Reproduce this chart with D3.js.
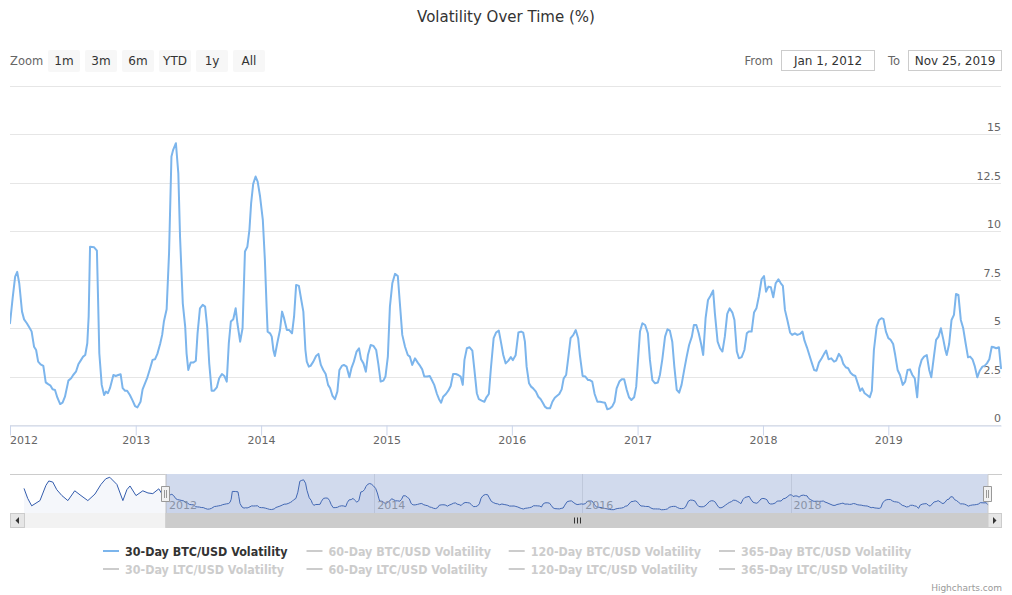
<!DOCTYPE html>
<html><head><meta charset="utf-8">
<script src="https://cdn.jsdelivr.net/npm/d3@7"></script>
<style>
html,body{margin:0;padding:0;background:#fff;}
svg{display:block;font-family:"DejaVu Sans",sans-serif;}
</style></head><body>
<svg id="chart" width="1012" height="595"></svg>
<script>
// ---------------- DATA ----------------
const chartTitle = "Volatility Over Time (%)";
const startDate = "2012-01-01";
const endDate = "2019-11-25";
// [days since 2012-01-01, 30-day BTC/USD volatility %]
const btc2012 = [[0,5.25],[8,6.6],[15,7.66],[21,7.9],[27,7.3],[35,5.85],[41,5.45],[49,5.25],[56,5.04],[63,4.82],[70,4.04],[76,3.87],[82,3.27],[89,3.13],[97,3.05],[104,2.2],[110,2.12],[118,2.03],[124,1.84],[131,1.81],[138,1.41],[146,1.08],[153,1.15],[160,1.46],[170,2.29],[178,2.41],[184,2.58],[192,2.75],[199,3.13],[207,3.36],[213,3.53],[219,3.61],[225,4.22],[229,5.6],[233,9.2],[245,9.17],[253,9.0],[256,6.8],[260,3.7],[267,2.07],[274,1.55],[279,1.72],[285,1.64],[291,1.9],[301,2.58],[308,2.53],[315,2.58],[322,2.62],[328,1.9],[335,1.77],[341,1.77],[349,1.55],[357,1.26],[364,0.98]];
const btc2013 = [[371,0.91],[380,1.2],[386,1.84],[393,2.15],[400,2.46],[408,2.93],[415,3.36],[422,3.39],[429,3.67],[437,4.18],[443,4.65],[448,5.34],[456,5.97],[463,8.86],[470,13.86],[475,14.2],[483,14.54],[490,13.0],[495,9.72],[503,6.28],[510,5.08],[514,3.7],[519,2.84],[526,3.22],[534,3.22],[541,3.32],[546,4.73],[553,6.02],[561,6.2],[568,6.11],[574,5.08],[580,3.18],[587,1.77],[594,1.77],[602,1.94],[609,2.41],[617,2.63],[624,2.53],[631,2.24],[637,4.22],[643,5.34],[650,5.46],[657,6.02],[662,5.25],[670,4.3],[677,4.99],[684,8.95],[691,9.2],[697,10.07],[702,11.45],[708,12.44],[715,12.82],[721,12.56],[728,11.79]];
const btc2014 = [[736,10.59],[742,8.52],[747,6.11],[750,4.82],[757,4.73],[762,4.56],[767,3.84],[771,3.56],[778,4.22],[786,4.9],[792,5.85],[798,5.5],[806,4.9],[813,4.9],[821,4.73],[827,5.6],[833,7.23],[841,7.18],[848,6.45],[854,5.85],[860,3.87],[864,3.27],[870,3.01],[875,3.05],[883,3.27],[891,3.56],[898,3.67],[905,3.1],[912,2.84],[919,2.63],[926,2.07],[932,1.9],[939,1.5],[946,1.33],[953,1.72],[959,2.84],[966,3.05],[972,3.1],[980,3.01],[988,2.46],[994,2.93],[1001,3.27],[1009,3.79],[1016,3.96],[1022,3.39],[1029,3.18],[1036,2.75],[1042,3.61],[1050,4.13],[1058,4.08],[1066,3.87],[1072,3.18],[1079,2.24],[1087,2.29],[1093,2.5]];
const btc2015 = [[1100,3.53],[1106,6.11],[1113,7.31],[1121,7.8],[1129,7.69],[1135,6.28],[1142,4.65],[1150,4.04],[1158,3.61],[1164,3.53],[1171,3.1],[1179,3.44],[1187,3.22],[1194,3.05],[1200,2.87],[1206,2.5],[1214,2.5],[1222,2.53],[1228,2.32],[1235,2.07],[1243,1.6],[1249,1.33],[1255,1.15],[1261,1.46],[1269,1.6],[1276,1.77],[1283,2.01],[1290,2.63],[1298,2.63],[1305,2.58],[1312,2.5],[1318,2.07],[1323,3.36],[1330,3.96],[1338,4.01],[1346,3.84],[1352,2.84],[1359,1.64],[1365,1.33],[1373,1.26],[1381,1.2],[1387,1.43],[1394,1.6],[1400,2.93],[1408,4.48],[1415,4.77],[1423,4.87],[1429,4.3],[1436,3.61],[1443,3.18],[1451,3.32],[1458,3.5]];
const btc2016 = [[1464,3.35],[1472,3.6],[1480,4.77],[1488,4.82],[1494,4.77],[1499,4.3],[1504,3.01],[1511,2.15],[1517,1.98],[1523,1.89],[1531,1.72],[1538,1.46],[1545,1.33],[1551,1.15],[1557,0.95],[1564,0.86],[1572,0.86],[1579,1.2],[1586,1.41],[1592,1.5],[1599,1.6],[1606,1.84],[1612,2.41],[1619,2.58],[1625,3.44],[1632,4.48],[1640,4.65],[1647,4.9],[1654,4.48],[1659,3.61],[1667,2.53],[1675,2.5],[1683,2.32],[1688,2.32],[1695,2.24],[1702,1.6],[1710,1.2],[1718,1.2],[1725,1.17],[1732,1.15],[1739,0.81],[1747,0.86],[1753,0.95],[1760,1.2],[1766,1.89],[1774,2.24],[1781,2.36],[1788,2.36],[1795,1.84],[1802,1.43],[1809,1.29],[1817,1.43],[1823,1.98]];
const btc2017 = [[1827,3.01],[1834,4.82],[1841,5.25],[1849,5.16],[1857,4.73],[1863,3.36],[1870,2.32],[1878,2.15],[1886,2.19],[1892,2.58],[1899,3.39],[1907,4.56],[1914,4.94],[1921,4.87],[1928,4.3],[1934,3.01],[1941,1.81],[1948,1.67],[1955,2.07],[1963,2.87],[1970,3.53],[1977,4.13],[1985,4.56],[1991,5.16],[1998,5.16],[2005,4.73],[2012,4.18],[2018,3.61],[2025,5.51],[2032,6.45],[2039,6.66],[2047,6.94],[2052,5.77],[2060,4.3],[2067,3.96],[2074,3.79],[2081,4.56],[2088,5.73],[2095,6.02],[2103,5.8],[2109,5.42],[2116,3.79],[2122,3.44],[2130,3.5],[2138,3.87],[2145,4.73],[2151,4.82],[2159,4.82],[2166,5.8],[2173,6.02],[2180,6.63]];
const btc2018 = [[2188,7.52],[2195,7.69],[2201,6.88],[2208,7.14],[2215,7.11],[2222,6.59],[2229,7.31],[2237,7.52],[2244,7.31],[2250,7.18],[2256,5.94],[2263,5.42],[2271,4.77],[2277,4.65],[2285,4.73],[2292,4.65],[2300,4.7],[2307,4.82],[2313,4.35],[2320,4.01],[2327,3.61],[2334,3.22],[2341,2.84],[2348,2.8],[2355,3.22],[2363,3.44],[2370,3.67],[2376,3.84],[2383,3.39],[2391,3.44],[2399,3.27],[2405,3.32],[2413,3.67],[2420,3.49],[2426,3.15],[2433,2.98],[2440,2.93],[2447,2.7],[2454,2.58],[2461,2.53],[2468,2.15],[2475,1.76],[2481,1.89],[2488,1.64],[2495,1.55],[2503,1.43],[2509,1.77],[2515,3.87],[2523,5.08],[2530,5.42],[2537,5.51],[2543,5.46],[2550,4.82]];
const btc2019 = [[2557,4.48],[2564,4.39],[2571,4.18],[2577,3.61],[2584,2.84],[2591,2.58],[2599,2.07],[2606,2.24],[2613,2.84],[2620,2.87],[2627,2.58],[2634,2.41],[2641,1.43],[2647,2.93],[2654,3.36],[2661,3.53],[2669,3.61],[2676,2.84],[2682,2.46],[2689,3.44],[2696,4.39],[2703,4.56],[2710,4.99],[2717,4.42],[2723,3.87],[2727,3.61],[2734,4.18],[2741,5.42],[2748,5.68],[2754,6.76],[2761,6.71],[2768,5.42],[2775,4.99],[2782,4.22],[2789,3.49],[2795,3.53],[2802,3.39],[2809,3.01],[2816,2.46],[2823,2.8],[2831,3.01],[2837,3.05],[2844,3.18],[2851,3.39],[2858,4.04],[2864,4.01],[2871,3.96],[2879,4.01],[2885,2.93]];
// earlier history only visible in the navigator
const btcEarly = [[-498,10.6],[-485,6],[-471,2.6],[-442,5],[-421,12],[-411,14],[-397,13.5],[-383,10],[-365,7.3],[-344,5],[-320,9.5],[-298,7.3],[-274,5],[-249,8],[-228,12.4],[-211,15],[-197,15.7],[-172,12.4],[-151,5],[-137,10],[-126,11.7],[-105,7.3],[-81,9.5],[-63,8.5],[-46,8.2],[-25,10.4],[-11,7.5]];

const yTicks = [0, 2.5, 5, 7.5, 10, 12.5, 15, 17.5];
const yTickLabels = ["0", "2.5", "5", "7.5", "10", "12.5", "15", ""];
const navYears = [2012, 2014, 2016, 2018];
const zoomButtons = ["1m", "3m", "6m", "YTD", "1y", "All"];
const legendNames = [
  "30-Day BTC/USD Volatility", "60-Day BTC/USD Volatility", "120-Day BTC/USD Volatility", "365-Day BTC/USD Volatility",
  "30-Day LTC/USD Volatility", "60-Day LTC/USD Volatility", "120-Day LTC/USD Volatility", "365-Day LTC/USD Volatility"
];
const legendVisible = [true, false, false, false, false, false, false, false];

// ---------------- DRAW ----------------
const svg = d3.select("#chart");
const parse = d3.utcParse("%Y-%m-%d");
const t0 = parse(startDate), tEnd = parse(endDate);
const toPoint = ([d, v]) => ({ date: d3.utcDay.offset(t0, d), v });
const mainData = [...btc2012, ...btc2013, ...btc2014, ...btc2015, ...btc2016, ...btc2017, ...btc2018, ...btc2019].map(toPoint);
const navData = [...btcEarly.map(toPoint), ...mainData];

const P = { left: 10, right: 1001, top: 85.85, bottom: 425 };
const x = d3.scaleUtc().domain([t0, tEnd]).range([P.left, P.right]);
const y = d3.scaleLinear().domain([0, 17.5]).range([P.bottom, P.top]);

// title
svg.append("text").attr("x", 506).attr("y", 22).attr("text-anchor", "middle")
  .attr("font-size", 15).attr("fill", "#333").text(chartTitle);

// range selector
svg.append("text").attr("x", 10).attr("y", 65).attr("font-size", 11.5).attr("fill", "#666").text("Zoom");
const btn = svg.append("g").selectAll("g").data(zoomButtons).join("g")
  .attr("transform", (d, i) => `translate(${48 + i * 37},50)`);
btn.append("rect").attr("width", 32).attr("height", 22).attr("rx", 2).attr("fill", "#f7f7f7");
btn.append("text").attr("x", 16).attr("y", 15).attr("text-anchor", "middle").attr("font-size", 12).attr("fill", "#333").text(d => d);

const fmt = d3.utcFormat("%b %-d, %Y");
const inputs = [{ label: "From", lx: 773, bx: 781.5, date: t0 }, { label: "To", lx: 900, bx: 908.5, date: tEnd }];
inputs.forEach(o => {
  svg.append("text").attr("x", o.lx).attr("y", 65).attr("text-anchor", "end").attr("font-size", 11.5).attr("fill", "#666").text(o.label);
  svg.append("rect").attr("x", o.bx).attr("y", 50.5).attr("width", 93).attr("height", 20).attr("fill", "#fff").attr("stroke", "#ccc");
  svg.append("text").attr("x", o.bx + 46.5).attr("y", 65).attr("text-anchor", "middle").attr("font-size", 12).attr("fill", "#333").text(fmt(o.date));
});

// grid + y labels
const grid = svg.append("g");
grid.selectAll("line").data(yTicks).join("line")
  .attr("x1", P.left).attr("x2", P.right).attr("y1", d => Math.round(y(d)) + 0.5).attr("y2", d => Math.round(y(d)) + 0.5)
  .attr("stroke", "#e6e6e6");
svg.append("g").selectAll("text").data(yTicks).join("text")
  .attr("x", P.right).attr("y", d => y(d) - 3).attr("text-anchor", "end")
  .attr("font-size", 11).attr("fill", "#666").text((d, i) => yTickLabels[i]);

// x axis
const xAxis = svg.append("g").attr("transform", `translate(0,${P.bottom + 0.5})`)
  .call(d3.axisBottom(x).ticks(d3.utcYear.every(1)).tickFormat(d3.utcFormat("%Y")).tickSize(10).tickSizeOuter(0).tickPadding(1));
xAxis.select(".domain").attr("stroke", "#ccd6eb");
xAxis.selectAll(".tick line").attr("stroke", "#ccd6eb");
xAxis.selectAll(".tick text").attr("fill", "#666").attr("font-size", 11).attr("font-family", "DejaVu Sans");
xAxis.selectAll(".tick text").each(function () {
  const b = this.getBBox();
  const tx = +this.parentNode.getAttribute("transform").match(/translate\(([-\d.]+)/)[1];
  if (tx + b.x < P.left) d3.select(this).attr("x", P.left - (tx + b.x));
});

// main series
svg.append("clipPath").attr("id", "plotClip").append("rect")
  .attr("x", P.left).attr("y", P.top - 5).attr("width", P.right - P.left + 1).attr("height", P.bottom - P.top + 10);
svg.append("path").datum(mainData).attr("clip-path", "url(#plotClip)")
  .attr("fill", "none").attr("stroke", "#7cb5ec").attr("stroke-width", 2)
  .attr("stroke-linejoin", "round").attr("stroke-linecap", "round")
  .attr("d", d3.line().x(d => x(d.date)).y(d => y(d.v)));

// navigator
const N = { left: 24, right: 988, top: 474, bottom: 513 };
const xn = d3.scaleUtc().domain([navData[0].date, tEnd]).range([N.left, N.right]);
const vmin = d3.min(navData, d => d.v), vmax = d3.max(navData, d => d.v), span = vmax - vmin;
const yn = d3.scaleLinear().domain([vmin - 0.1 * span, vmax + 0.1 * span]).range([N.bottom, N.top]);
const nav = svg.append("g");
nav.selectAll("line.ng").data(navYears).join("line").attr("class", "ng")
  .attr("x1", d => Math.round(xn(Date.UTC(d, 0, 1))) + 0.5).attr("x2", d => Math.round(xn(Date.UTC(d, 0, 1))) + 0.5)
  .attr("y1", N.top).attr("y2", N.bottom).attr("stroke", "#e6e6e6");
nav.append("path").datum(navData).attr("fill", "#335cad").attr("fill-opacity", 0.05)
  .attr("d", d3.area().x(d => xn(d.date)).y0(N.bottom).y1(d => yn(d.v)));
nav.append("path").datum(navData).attr("fill", "none").attr("stroke", "#335cad").attr("stroke-width", 1)
  .attr("d", d3.line().x(d => xn(d.date)).y(d => yn(d.v)));
nav.selectAll("text").data(navYears).join("text")
  .attr("x", d => xn(Date.UTC(d, 0, 1)) + 3).attr("y", 509).attr("font-size", 11).attr("fill", "#999").text(d => d);
const zMin = xn(t0), zMax = xn(tEnd);
nav.append("rect").attr("x", zMin).attr("y", N.top).attr("width", zMax - zMin).attr("height", N.bottom - N.top)
  .attr("fill", "rgba(102,133,194,0.3)");

// scrollbar
const S = { y: 513.5, h: 14 };
nav.append("rect").attr("x", 10.5).attr("y", S.y).attr("width", 991).attr("height", S.h).attr("fill", "#f2f2f2").attr("stroke", "#f2f2f2");
nav.append("rect").attr("x", zMin).attr("y", S.y).attr("width", zMax - zMin).attr("height", S.h).attr("fill", "#cccccc").attr("stroke", "#cccccc");
const gx = (zMin + zMax) / 2;
[-3, 0, 3].forEach(o => nav.append("line").attr("x1", Math.round(gx + o) + 0.5).attr("x2", Math.round(gx + o) + 0.5)
  .attr("y1", S.y + 4).attr("y2", S.y + 10).attr("stroke", "#333"));
[[10.5, -1], [987.5, 1]].forEach(([bx, dir]) => {
  nav.append("rect").attr("x", bx).attr("y", S.y).attr("width", 14).attr("height", S.h).attr("fill", "#e6e6e6").attr("stroke", "#cccccc");
  const cx = bx + 7, cy = S.y + 7;
  nav.append("path").attr("fill", "#333")
    .attr("d", `M${cx + dir * 2},${cy} L${cx - dir * 1.5},${cy - 3.5} L${cx - dir * 1.5},${cy + 3.5} Z`);
});

// outline
nav.append("path").attr("fill", "none").attr("stroke", "#cccccc")
  .attr("d", `M10,${N.top + 0.5} L${zMin},${N.top + 0.5} L${zMin},${S.y + S.h} L${zMax},${S.y + S.h} L${zMax},${N.top + 0.5} L1002,${N.top + 0.5}`);

// handles
[zMin, zMax].forEach(hx => {
  const g = nav.append("g").attr("transform", `translate(${Math.round(hx)},486)`);
  g.append("path").attr("fill", "#f2f2f2").attr("stroke", "#999")
    .attr("d", "M -4.5 0.5 L 3.5 0.5 L 3.5 15.5 L -4.5 15.5 Z");
  g.append("path").attr("stroke", "#999").attr("fill", "none").attr("d", "M -1.5 4 L -1.5 12 M 0.5 4 L 0.5 12");
});

// legend
const colX = [103, 306.5, 508.7, 719];
const rowY = [551, 569];
const leg = svg.append("g").selectAll("g").data(legendNames).join("g")
  .attr("transform", (d, i) => `translate(${colX[i % 4]},${rowY[Math.floor(i / 4)]})`);
leg.append("line").attr("x1", 0).attr("x2", 16).attr("y1", 0).attr("y2", 0).attr("stroke-width", 2)
  .attr("stroke", (d, i) => legendVisible[i] ? "#7cb5ec" : "#cccccc");
leg.append("text").attr("x", 22).attr("y", 4.5).attr("font-size", 12.4).attr("font-weight", "bold")
  .attr("font-family", "'DejaVu Sans Condensed','DejaVu Sans',sans-serif").attr("font-stretch", "condensed")
  .attr("fill", (d, i) => legendVisible[i] ? "#333" : "#cccccc").text(d => d);

// credits
svg.append("text").attr("x", 1002).attr("y", 591).attr("text-anchor", "end").attr("font-size", 9).attr("fill", "#999").text("Highcharts.com");
</script>
</body></html>
